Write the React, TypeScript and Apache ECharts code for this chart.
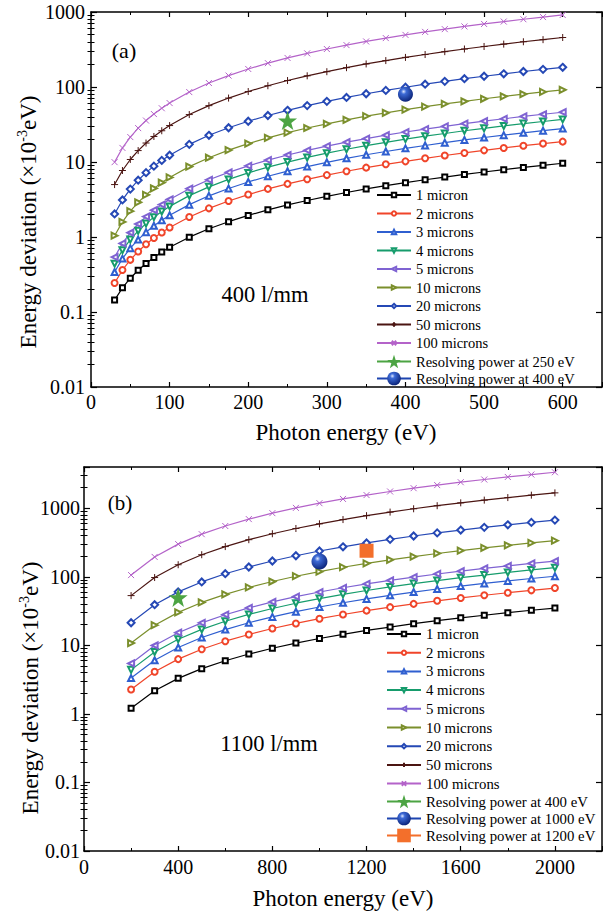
import React, { useEffect, useRef } from 'react';
import * as echarts from 'echarts';

// ---------- data ----------
const energyA = [30, 40, 50, 60, 70, 80, 90, 100, 125, 150, 175, 200, 225, 250, 275, 300, 325, 350, 375, 400, 425, 450, 475, 500, 525, 550, 575, 600];
const energyB = [200, 300, 400, 500, 600, 700, 800, 900, 1000, 1100, 1200, 1300, 1400, 1500, 1600, 1700, 1800, 1900, 2000];

const sizeLabels = ['1 micron', '2 microns', '3 microns', '4 microns', '5 microns', '10 microns', '20 microns', '50 microns', '100 microns'];

const devA1 = [0.144, 0.21, 0.282, 0.36, 0.444, 0.534, 0.629, 0.728, 0.995, 1.29, 1.6, 1.94, 2.3, 2.68, 3.07, 3.49, 3.92, 4.37, 4.83, 5.3, 5.8, 6.3, 6.82, 7.36, 7.9, 8.46, 9.03, 9.62];
const devA2 = [0.243, 0.363, 0.496, 0.642, 0.8, 0.969, 1.15, 1.34, 1.85, 2.41, 3.02, 3.68, 4.38, 5.11, 5.88, 6.69, 7.53, 8.41, 9.32, 10.2, 11.2, 12.2, 13.2, 14.3, 15.4, 16.5, 17.6, 18.7];
const devA3 = [0.342, 0.515, 0.71, 0.924, 1.16, 1.41, 1.67, 1.95, 2.7, 3.54, 4.44, 5.42, 6.45, 7.54, 8.69, 9.9, 11.2, 12.5, 13.8, 15.2, 16.6, 18.1, 19.7, 21.2, 22.8, 24.5, 26.2, 27.9];
const devA4 = [0.441, 0.668, 0.924, 1.21, 1.51, 1.84, 2.19, 2.56, 3.56, 4.66, 5.86, 7.15, 8.53, 9.98, 11.5, 13.1, 14.8, 16.5, 18.3, 20.2, 22.1, 24.0, 26.1, 28.1, 30.3, 32.5, 34.7, 37.0];
const devA5 = [0.54, 0.821, 1.14, 1.49, 1.87, 2.28, 2.71, 3.17, 4.41, 5.79, 7.28, 8.89, 10.6, 12.4, 14.3, 16.3, 18.4, 20.5, 22.8, 25.1, 27.5, 29.9, 32.5, 35.1, 37.7, 40.5, 43.3, 46.1];
const devA10 = [1.04, 1.59, 2.21, 2.9, 3.65, 4.45, 5.31, 6.22, 8.68, 11.4, 14.4, 17.6, 21.0, 24.6, 28.4, 32.3, 36.5, 40.8, 45.2, 49.8, 54.6, 59.5, 64.5, 69.7, 75.0, 80.5, 86.0, 91.7];
const devA20 = [2.03, 3.12, 4.35, 5.72, 7.21, 8.81, 10.5, 12.3, 17.2, 22.7, 28.6, 34.9, 41.7, 48.9, 56.5, 64.4, 72.6, 81.2, 90.1, 99.3, 109, 119, 129, 139, 150, 161, 172, 183];
const devA50 = [5.0, 7.7, 10.8, 14.2, 17.9, 21.9, 26.1, 30.6, 42.9, 56.4, 71.2, 87.0, 104, 122, 141, 160, 181, 203, 225, 248, 271, 296, 321, 347, 373, 401, 428, 457];
const devA100 = [9.95, 15.4, 21.5, 28.3, 35.7, 43.6, 52.1, 61.1, 85.6, 113, 142, 174, 208, 244, 281, 321, 362, 405, 449, 495, 543, 591, 642, 693, 746, 801, 856, 913];

const devB1 = [1.21, 2.17, 3.3, 4.57, 5.96, 7.47, 9.08, 10.8, 12.6, 14.5, 16.5, 18.5, 20.7, 22.9, 25.2, 27.5, 30.0, 32.5, 35.0];
const devB2 = [2.27, 4.12, 6.3, 8.76, 11.5, 14.4, 17.6, 20.9, 24.5, 28.2, 32.1, 36.1, 40.3, 44.7, 49.2, 53.8, 58.6, 63.5, 68.5];
const devB3 = [3.33, 6.07, 9.29, 13.0, 17.0, 21.4, 26.0, 31.0, 36.3, 41.8, 47.6, 53.7, 59.9, 66.4, 73.2, 80.1, 87.2, 94.5, 102];
const devB4 = [4.39, 8.01, 12.3, 17.1, 22.5, 28.3, 34.5, 41.2, 48.2, 55.5, 63.2, 71.2, 79.6, 88.2, 97.1, 106, 116, 126, 136];
const devB5 = [5.45, 9.96, 15.3, 21.3, 28.0, 35.2, 43.0, 51.3, 60.0, 69.2, 78.8, 88.8, 99.2, 110, 121, 133, 144, 157, 169];
const devB10 = [10.8, 19.7, 30.3, 42.3, 55.5, 69.9, 85.4, 102, 119, 138, 157, 177, 197, 219, 241, 264, 288, 312, 337];
const devB20 = [21.4, 39.2, 60.3, 84.2, 111, 139, 170, 203, 238, 274, 312, 352, 394, 437, 481, 527, 574, 622, 672];
const devB50 = [53.2, 97.6, 150, 210, 276, 348, 425, 507, 593, 684, 780, 879, 983, 1090, 1200, 1315, 1432, 1553, 1678];
const devB100 = [106, 195, 300, 419, 551, 695, 849, 1013, 1186, 1368, 1559, 1758, 1964, 2178, 2400, 2628, 2863, 3105, 3354];

const markerNamesA = ['Resolving power at 250 eV', 'Resolving power at 400 eV'];
const markerEnergyA = [250, 400];
const markerDevA = [35.7, 80];

const markerNamesB = ['Resolving power at 400 eV', 'Resolving power at 1000 eV', 'Resolving power at 1200 eV'];
const markerEnergyB = [400, 1000, 1200];
const markerDevB = [50, 167, 240];

const xTicksA = [0, 100, 200, 300, 400, 500, 600];
const xTicksB = [0, 400, 800, 1200, 1600, 2000];
const yDecadeLabels = ['0.01', '0.1', '1', '10', '100', '1000'];

const seriesA = [devA1, devA2, devA3, devA4, devA5, devA10, devA20, devA50, devA100];
const seriesB = [devB1, devB2, devB3, devB4, devB5, devB10, devB20, devB50, devB100];

// ---------- styles ----------
const FONT = "'Liberation Serif', 'Times New Roman', serif";
const PLUS = 'path://M5,0L5,10M0,5L10,5';
const CROSS = 'path://M0,0L10,10M10,0L0,10';
const STAR = 'path://M50,0L61.8,35.1L98.1,35.1L68.8,56.8L79.4,90.5L50,69.5L20.6,90.5L31.2,56.8L1.9,35.1L38.2,35.1Z';

const lineStyles = [
  { color: '#000000', symbol: 'emptyRect', size: 5, rotate: 0 },
  { color: '#f0452a', symbol: 'emptyCircle', size: 6, rotate: 0 },
  { color: '#2f5fd0', symbol: 'emptyTriangle', size: 6, rotate: 0 },
  { color: '#169c6c', symbol: 'emptyTriangle', size: 6, rotate: 180 },
  { color: '#7f63d2', symbol: 'emptyTriangle', size: 6, rotate: 90 },
  { color: '#7b8f2c', symbol: 'emptyTriangle', size: 6, rotate: -90 },
  { color: '#2548b5', symbol: 'emptyDiamond', size: 7, rotate: 0 },
  { color: '#4b1512', symbol: PLUS, size: 7, rotate: 0 },
  { color: '#b463c9', symbol: CROSS, size: 6, rotate: 0 },
];

const sphere = {
  type: 'radial', x: 0.38, y: 0.32, r: 0.7,
  colorStops: [
    { offset: 0, color: '#dfe8ff' },
    { offset: 0.25, color: '#3d6ad6' },
    { offset: 1, color: '#0b2378' },
  ],
};
const markerStylesA = [
  { color: '#4ca443', symbol: STAR, size: 19, fill: '#4ca443' },
  { color: '#1d44b0', symbol: 'circle', size: 15, fill: sphere },
];
const markerStylesB = [
  { color: '#4ca443', symbol: STAR, size: 19, fill: '#4ca443' },
  { color: '#1d44b0', symbol: 'circle', size: 16, fill: sphere },
  { color: '#f36f2b', symbol: 'rect', size: 14, fill: '#f36f2b' },
];

function minorValues(decades: number[], limit: number) {
  const out: number[] = [];
  decades.forEach((d) => {
    for (let m = 2; m <= 9; m++) {
      const v = Number((m * d).toPrecision(2));
      if (v < limit) out.push(v);
    }
  });
  return out;
}

function decadeLabel(v: number) {
  const l = Math.log10(v);
  if (Math.abs(l - Math.round(l)) > 1e-6) return '';
  const idx = Math.round(l) + 2;
  return yDecadeLabels[idx] ?? '';
}

const axisLineStyle = { show: true, onZero: false, lineStyle: { color: '#000', width: 1.5 } };

function xAxesFor(grid: number, max: number, interval: number, ticks: number[], margin: number) {
  const base = {
    type: 'value', gridIndex: grid, min: 0, max, interval,
    axisLine: axisLineStyle,
    axisTick: { show: true, inside: true, length: 5, lineStyle: { color: '#000', width: 1.2 } },
    minorTick: { show: true, splitNumber: 2, length: 3, lineStyle: { color: '#000', width: 1 } },
    splitLine: { show: false }, minorSplitLine: { show: false },
  };
  return [
    {
      ...base, position: 'bottom',
      axisLabel: {
        show: true, margin, color: '#000', fontFamily: FONT, fontSize: 20,
        formatter: (v: number) => (ticks.indexOf(v) >= 0 ? String(v) : ''),
      },
    },
    { ...base, position: 'top', axisLabel: { show: false } },
  ];
}

function yAxesFor(grid: number, max: number, minors: number[], margin: number) {
  const base = {
    type: 'log', logBase: 10, gridIndex: grid, min: 0.01, max,
    splitLine: { show: false },
  };
  const major = {
    ...base,
    axisLine: axisLineStyle,
    axisTick: { show: true, inside: true, length: 6, lineStyle: { color: '#000', width: 1.2 } },
  };
  const minor = {
    ...base,
    axisLine: { show: false },
    axisLabel: { show: false },
    axisTick: { show: true, inside: true, length: 3.5, customValues: minors, lineStyle: { color: '#000', width: 1 } },
  };
  return [
    {
      ...major, position: 'left',
      axisLabel: { show: true, margin, color: '#000', fontFamily: FONT, fontSize: 20, formatter: decadeLabel },
    },
    { ...minor, position: 'left' },
    { ...major, position: 'right', axisLabel: { show: false } },
    { ...minor, position: 'right' },
  ];
}

function lineSeries(energies: number[], values: number[][], xIdx: number, yIdx: number, suffix: string) {
  return values.map((vals, i) => {
    const st = lineStyles[i];
    return {
      name: sizeLabels[i] + suffix,
      type: 'line',
      xAxisIndex: xIdx,
      yAxisIndex: yIdx,
      data: energies.map((e, j) => [e, vals[j]]),
      symbol: st.symbol,
      symbolSize: st.size,
      symbolRotate: st.rotate,
      showSymbol: true,
      lineStyle: { color: st.color, width: 1.2 },
      itemStyle: { color: st.color, borderColor: st.color, borderWidth: 1 },
      z: 2,
    };
  });
}

function markerSeries(names: string[], energies: number[], values: number[], styles: any[], xIdx: number, yIdx: number, suffix: string) {
  return names.map((n, i) => ({
    name: n + suffix,
    type: 'line',
    xAxisIndex: xIdx,
    yAxisIndex: yIdx,
    data: [[energies[i], values[i]]],
    symbol: styles[i].symbol,
    symbolSize: styles[i].size,
    showSymbol: true,
    lineStyle: { color: styles[i].color, width: 3 },
    itemStyle: { color: styles[i].fill },
    z: 5,
  }));
}

function legendFor(names: string[], left: number, top: number, itemHeight: number, itemGap: number, fontSize: number) {
  return {
    data: names,
    orient: 'vertical',
    left, top,
    padding: 0,
    itemWidth: 34,
    itemHeight,
    itemGap,
    selectedMode: false,
    formatter: (n: string) => n.trim(),
    textStyle: { color: '#000', fontFamily: FONT, fontSize, lineHeight: 15 },
  };
}

function txt(text: string, x: number, y: number, fontSize: number) {
  return {
    type: 'text', x, y, silent: true,
    style: { text, fill: '#000', fontFamily: FONT, fontSize, align: 'center', verticalAlign: 'middle' },
  };
}

function yTitle(x: number, y: number) {
  return {
    type: 'text', x, y, rotation: Math.PI / 2, silent: true,
    style: {
      text: '{n|Energy deviation (×10}{s|-3}{n|eV)}',
      align: 'center', verticalAlign: 'middle',
      rich: {
        n: { fontFamily: FONT, fontSize: 23, fill: '#000', color: '#000', lineHeight: 26 },
        s: { fontFamily: FONT, fontSize: 14, fill: '#000', color: '#000', lineHeight: 26, verticalAlign: 'top' },
      },
    },
  };
}

export default function App() {
  const ref = useRef<HTMLDivElement>(null);
  useEffect(() => {
    if (!ref.current) return;
    const chart = echarts.init(ref.current, undefined, { renderer: 'svg' });
    const minorsA = minorValues([0.01, 0.1, 1, 10, 100], 1000);
    const minorsB = minorValues([0.01, 0.1, 1, 10, 100, 1000], 4000);
    const option: any = {
      animation: false,
      backgroundColor: '#fff',
      grid: [
        { left: 91, top: 12, width: 511, height: 375, outerBoundsMode: 'none' },
        { left: 84, top: 467, width: 518, height: 384, outerBoundsMode: 'none' },
      ],
      xAxis: [
        ...xAxesFor(0, 650, 100, xTicksA, 5),
        ...xAxesFor(1, 2200, 400, xTicksB, 6),
      ],
      yAxis: [
        ...yAxesFor(0, 1000, minorsA, 6),
        ...yAxesFor(1, 4000, minorsB, 4),
      ],
      legend: [
        legendFor(sizeLabels, 376, 187.5, 5.5, 3.5, 14.5),
        legendFor(markerNamesA, 376, 354, 17, 2, 14.5),
        legendFor(sizeLabels.map((s) => s + ' '), 386, 626.5, 5.5, 3.7, 14.8),
        legendFor(markerNamesB.map((s) => s + ' '), 386, 794, 17, 2, 14.8),
      ],
      series: [
        ...lineSeries(energyA, seriesA, 0, 0, ''),
        ...markerSeries(markerNamesA, markerEnergyA, markerDevA, markerStylesA, 0, 0, ''),
        ...lineSeries(energyB, seriesB, 2, 4, ' '),
        ...markerSeries(markerNamesB, markerEnergyB, markerDevB, markerStylesB, 2, 4, ' '),
      ],
      graphic: [
        txt('(a)', 124, 50, 22),
        txt('400 l/mm', 265, 294, 22.5),
        txt('Photon energy (eV)', 346, 432, 23),
        yTitle(28, 222),
        txt('(b)', 120, 503, 21),
        txt('1100 l/mm', 269, 743, 22.5),
        txt('Photon energy (eV)', 343, 898, 23),
        yTitle(30, 688),
      ],
    };
    chart.setOption(option);
    return () => chart.dispose();
  }, []);
  return <div ref={ref} style={{ position: 'fixed', left: 0, top: 0, width: 603, height: 915 }} />;
}
